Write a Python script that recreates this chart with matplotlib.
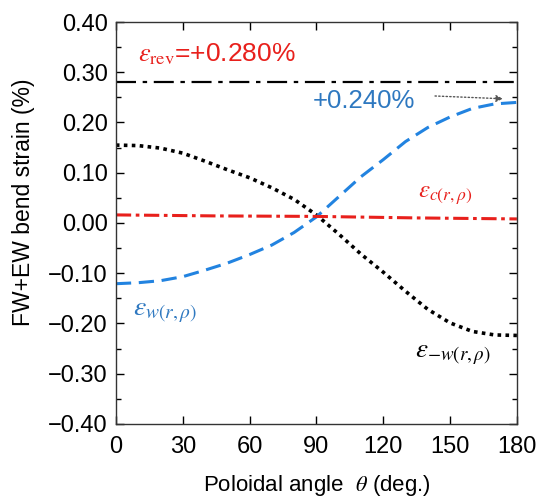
import matplotlib
matplotlib.use('Agg')
import matplotlib.pyplot as plt
import numpy as np
from matplotlib.ticker import MultipleLocator

# %% data
theta = [0, 10, 20, 30, 40, 50, 60, 70, 80, 90,
         100, 110, 120, 130, 140, 150, 160, 170, 180]
eps_mw = [0.155, 0.154, 0.149, 0.139, 0.123, 0.106, 0.090, 0.070, 0.047, 0.016,
          -0.022, -0.062, -0.098, -0.136, -0.172, -0.199, -0.216, -0.223, -0.224]
eps_w = [-0.121, -0.119, -0.115, -0.107, -0.094, -0.080, -0.063, -0.044, -0.019, 0.012,
         0.052, 0.092, 0.126, 0.162, 0.190, 0.211, 0.228, 0.237, 0.240]
theta_c = [0, 45, 90, 135, 180]
eps_c = [0.016, 0.014, 0.013, 0.010, 0.008]
eps_rev = 0.281

plt.rcParams['font.family'] = ['Liberation Sans', 'DejaVu Sans']
plt.rcParams['mathtext.fontset'] = 'stix'

blue = '#2283e0'
blue_txt = '#2e78c0'
red = '#e8201c'

fig = plt.figure(figsize=(5.39, 5.01), dpi=100)
ax = fig.add_axes([0.215, 0.154, 0.744, 0.802])

ax.axhline(eps_rev, color='k', lw=1.6, ls=(0, (9, 3, 2, 3)))
ax.plot(theta, eps_mw, color='k', lw=2.6, ls=(0, (1, 1.2)))
ax.plot(theta, eps_w, color=blue, lw=2.2, ls=(0, (5, 2.5)))
ax.plot(theta_c, eps_c, color=red, lw=2.2, ls=(0, (5, 1.5, 1.2, 1.5)))

ax.set_xlim(0, 180)
ax.set_ylim(-0.40, 0.40)
ax.xaxis.set_major_locator(MultipleLocator(30))
ax.yaxis.set_major_locator(MultipleLocator(0.1))
ax.yaxis.set_minor_locator(MultipleLocator(0.05))
ax.yaxis.set_major_formatter(plt.FuncFormatter(lambda v, p: f'{v:.2f}'.replace('-', '\u2212')))
ax.tick_params(direction='in', which='both', top=True, right=True, labelsize=17)
ax.tick_params(which='major', length=6, width=1)
ax.tick_params(which='minor', length=3.5, width=1)
ax.tick_params(axis='x', pad=9)
ax.tick_params(axis='y', pad=6)
for s in ax.spines.values():
    s.set_linewidth(1)
    s.set_color('#333333')

ax.set_xlabel(r'Poloidal angle  $\it{\theta}$ (deg.)', fontsize=16)
ax.xaxis.set_label_coords(0.5, -0.122)
ax.set_ylabel('FW+EW bend strain (%)', fontsize=16.5)
ax.yaxis.set_label_coords(-0.202, 0.552)

ax.text(9.9, 0.336, r'$\varepsilon_{\mathrm{rev}}$=+0.280%', color=red, fontsize=19,
        va='center', ha='left')
ax.text(88.4, 0.243, '+0.240%', color=blue_txt, fontsize=18.5, va='center', ha='left')
ax.annotate('', xy=(175, 0.247), xytext=(142, 0.253),
            arrowprops=dict(arrowstyle='-|>', color='#555555', lw=1, ls=':',
                            mutation_scale=10))
ax.text(135.6, 0.056, r'$\varepsilon_{c(r,\rho)}$', color=red, fontsize=18, va='center')
ax.text(7.6, -0.177, r'$\varepsilon_{w(r,\rho)}$', color=blue_txt, fontsize=20, va='center')
ax.text(134.2, -0.261, r'$\varepsilon_{-w(r,\rho)}$', color='k', fontsize=19.5, va='center')

fig.savefig('out.png', dpi=100)
